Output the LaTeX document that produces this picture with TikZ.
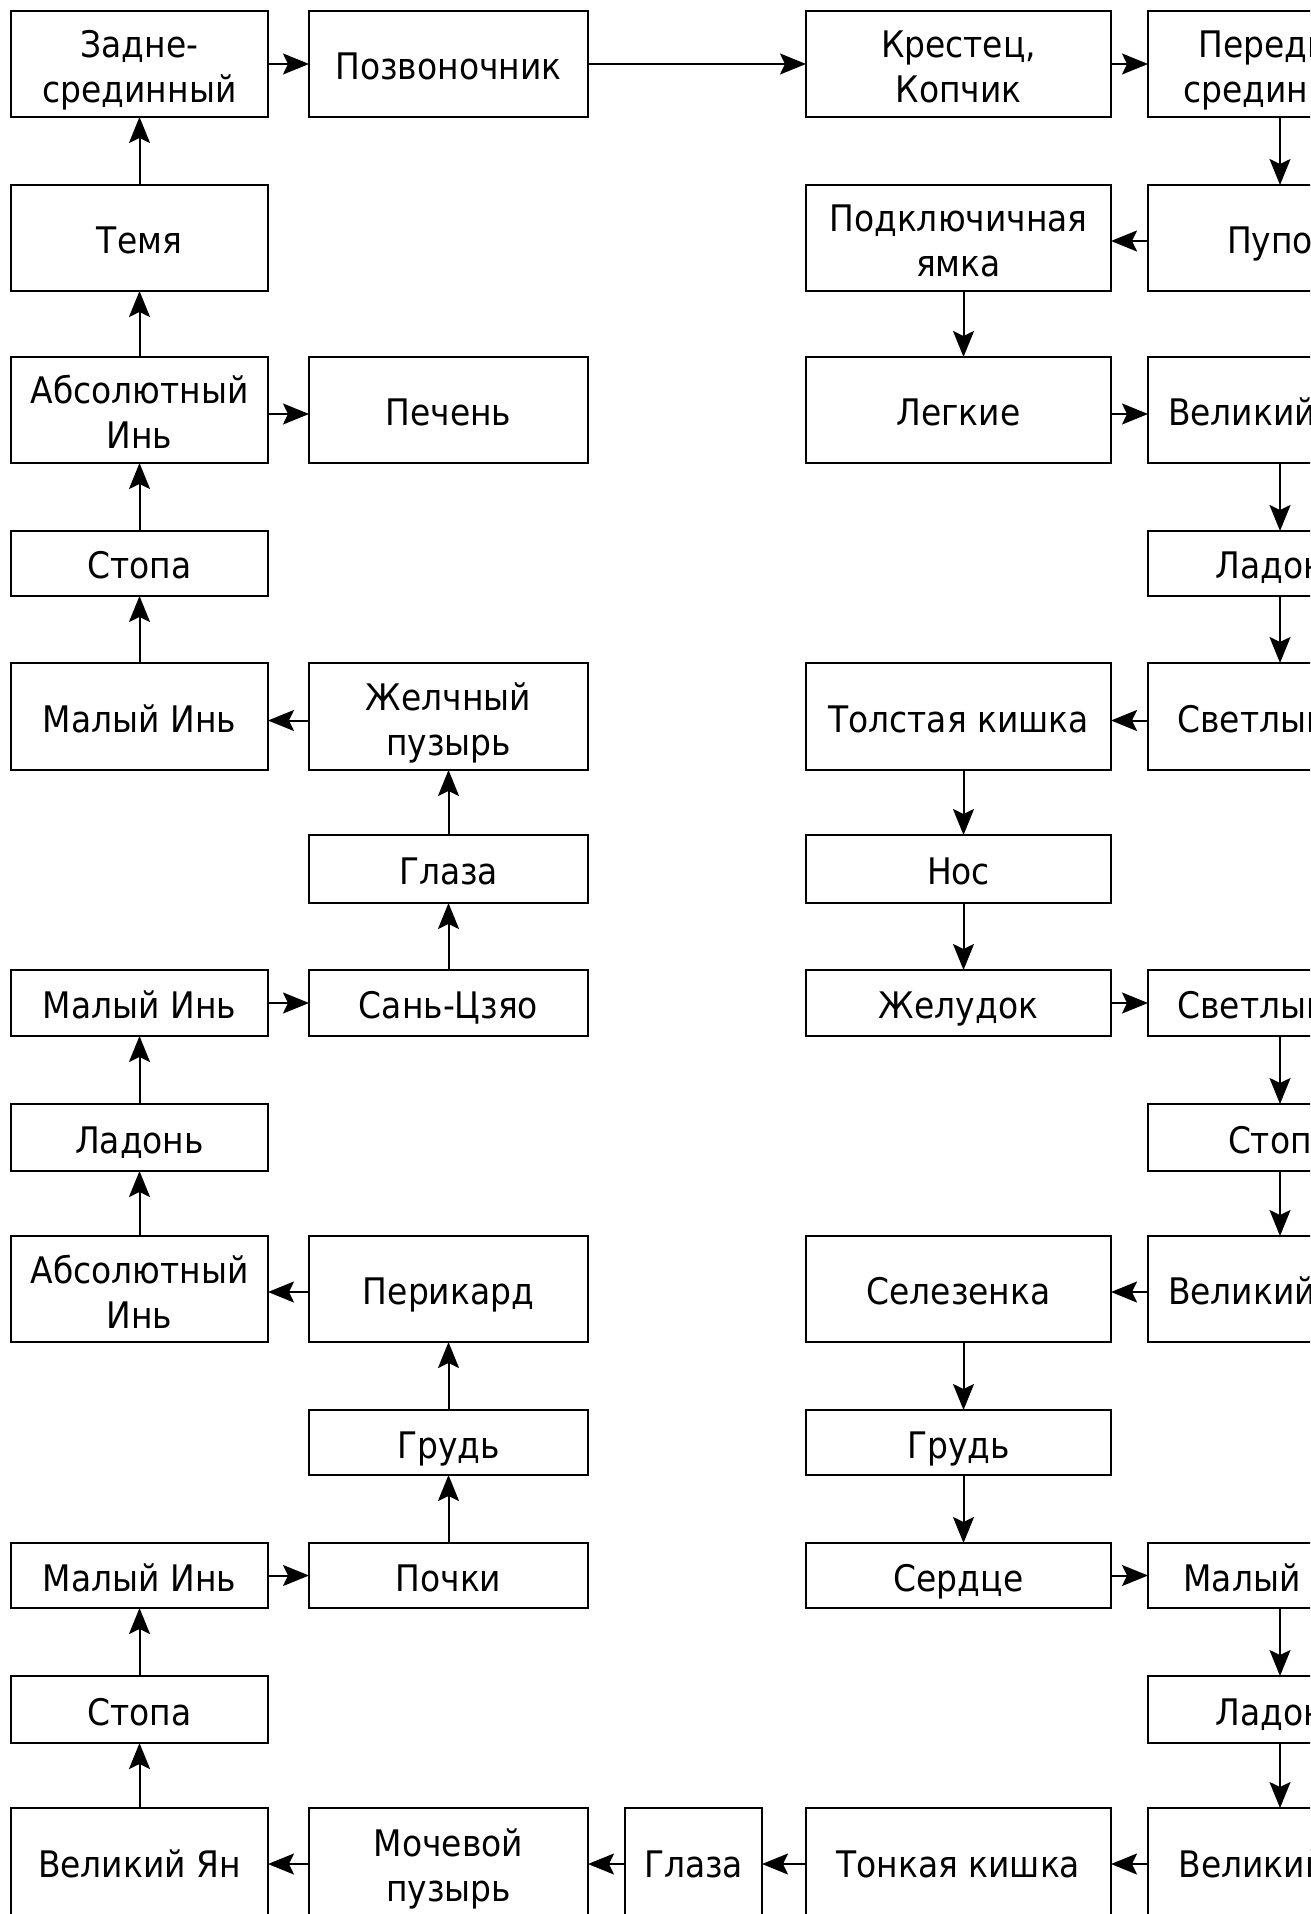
\documentclass[tikz,border=0pt]{standalone}
\usepackage{fontspec}
\setmainfont{DejaVu Sans Condensed}
\usetikzlibrary{arrows.meta}
\newcommand\bx[7][]{\node[box, #1, minimum width={(#5-#3)*0.5pt}, minimum height={(#6-#4)*0.5pt}]
  (#2) at ({(#3+#5)/2},{(#4+#6)/2}) {#7};}
\begin{document}
\begin{tikzpicture}[x=0.5pt,y=-0.5pt,
  box/.style={draw, line width=1pt, inner sep=0pt, outer sep=0pt, rectangle, align=center,
    font=\fontsize{18.3pt}{22.5pt}\selectfont, text height=18pt, text depth=2.5pt},
  two/.style={text height=41pt, text depth=2pt},
  arr/.style={line width=1pt, -{Stealth[length=13pt,width=10.5pt,inset=2.5pt]}}]
\useasboundingbox (0,0) rectangle (1310,1914);
\clip (0,0) rectangle (1310,1914);
% row 1
\bx[two]{zs}{11}{11}{268}{117}{Задне-\\срединный}
\bx{pz}{309}{11}{588}{117}{Позвоночник}
\bx[two]{kk}{806}{11}{1111}{117}{Крестец,\\Копчик}
\bx[two]{ps}{1148}{11}{1412}{117}{Передне-\\срединный}
% row 2
\bx{tm}{11}{185}{268}{291}{Темя}
\bx[two]{pk}{806}{185}{1111}{291}{Подключичная\\ямка}
\bx{pp}{1148}{185}{1412}{291}{Пупок}
% row 3
\bx[two]{ai1}{11}{357}{268}{463}{Абсолютный\\Инь}
\bx{pch}{309}{357}{588}{463}{Печень}
\bx{lg}{806}{357}{1111}{463}{Легкие}
\bx{vi1}{1148}{357}{1412}{463}{Великий Инь}
% row 4
\bx{st1}{11}{531}{268}{596}{Стопа}
\bx{ld1}{1148}{531}{1412}{596}{Ладонь}
% row 5
\bx{mi1}{11}{663}{268}{770}{Малый Инь}
\bx[two]{zp}{309}{663}{588}{770}{Желчный\\пузырь}
\bx{tk}{806}{663}{1111}{770}{Толстая кишка}
\bx{sy1}{1148}{663}{1412}{770}{Светлый Ян}
% row 6
\bx{gl1}{309}{835}{588}{903}{Глаза}
\bx{ns}{806}{835}{1111}{903}{Нос}
% row 7
\bx{mi2}{11}{970}{268}{1036}{Малый Инь}
\bx{sc}{309}{970}{588}{1036}{Сань-Цзяо}
\bx{zh}{806}{970}{1111}{1036}{Желудок}
\bx{sy2}{1148}{970}{1412}{1036}{Светлый Ян}
% row 8
\bx{ld2}{11}{1104}{268}{1171}{Ладонь}
\bx{st2}{1148}{1104}{1412}{1171}{Стопа}
% row 9
\bx[two]{ai2}{11}{1236}{268}{1342}{Абсолютный\\Инь}
\bx{pr}{309}{1236}{588}{1342}{Перикард}
\bx{sl}{806}{1236}{1111}{1342}{Селезенка}
\bx{vi2}{1148}{1236}{1412}{1342}{Великий Инь}
% row 10
\bx{gr1}{309}{1410}{588}{1475}{Грудь}
\bx{gr2}{806}{1410}{1111}{1475}{Грудь}
% row 11
\bx{mi3}{11}{1543}{268}{1608}{Малый Инь}
\bx{po}{309}{1543}{588}{1608}{Почки}
\bx{sr}{806}{1543}{1111}{1608}{Сердце}
\bx{mi4}{1148}{1543}{1412}{1608}{Малый Инь}
% row 12
\bx{st3}{11}{1676}{268}{1743}{Стопа}
\bx{ld3}{1148}{1676}{1412}{1743}{Ладонь}
% row 13
\bx{vy}{11}{1808}{268}{1916}{Великий Ян}
\bx[two]{mp}{309}{1808}{588}{1916}{Мочевой\\пузырь}
\bx{gl2}{625}{1808}{762}{1916}{Глаза}
\bx{tnk}{806}{1808}{1111}{1916}{Тонкая кишка}
\bx{vy2}{1148}{1808}{1412}{1916}{Великий Ян}

% left chain (upwards)
\draw[arr] (vy.north) -- (st3.south);
\draw[arr] (st3.north) -- (mi3.south);
\draw[arr] (mi3.east) -- (po.west);
\draw[arr] (po.north) -- (gr1.south);
\draw[arr] (gr1.north) -- (pr.south);
\draw[arr] ([yshift=-1.5pt]pr.west) -- ([yshift=-1.5pt]ai2.east);
\draw[arr] (ai2.north) -- (ld2.south);
\draw[arr] (ld2.north) -- (mi2.south);
\draw[arr] (mi2.east) -- (sc.west);
\draw[arr] (sc.north) -- (gl1.south);
\draw[arr] (gl1.north) -- (zp.south);
\draw[arr] ([yshift=-2pt]zp.west) -- ([yshift=-2pt]mi1.east);
\draw[arr] (mi1.north) -- (st1.south);
\draw[arr] (st1.north) -- (ai1.south);
\draw[arr] ([yshift=-2pt]ai1.east) -- ([yshift=-2pt]pch.west);
\draw[arr] (ai1.north) -- (tm.south);
\draw[arr] (tm.north) -- (zs.south);
\draw[arr] (zs.east) -- (pz.west);
\draw[arr] (pz.east) -- (kk.west);
\draw[arr] (kk.east) -- (ps.west);
% right chain (downwards)
\draw[arr] (ps.south) -- (pp.north);
\draw[arr] ([yshift=-1.5pt]pp.west) -- ([yshift=-1.5pt]pk.east);
\draw[arr] ([xshift=2.5pt]pk.south) -- ([xshift=2.5pt]lg.north);
\draw[arr] ([yshift=-2pt]lg.east) -- ([yshift=-2pt]vi1.west);
\draw[arr] (vi1.south) -- (ld1.north);
\draw[arr] (ld1.south) -- (sy1.north);
\draw[arr] ([yshift=-2pt]sy1.west) -- ([yshift=-2pt]tk.east);
\draw[arr] ([xshift=2.5pt]tk.south) -- ([xshift=2.5pt]ns.north);
\draw[arr] ([xshift=2.5pt]ns.south) -- ([xshift=2.5pt]zh.north);
\draw[arr] (zh.east) -- (sy2.west);
\draw[arr] (sy2.south) -- (st2.north);
\draw[arr] (st2.south) -- (vi2.north);
\draw[arr] ([yshift=-1.5pt]vi2.west) -- ([yshift=-1.5pt]sl.east);
\draw[arr] ([xshift=2.5pt]sl.south) -- ([xshift=2.5pt]gr2.north);
\draw[arr] ([xshift=2.5pt]gr2.south) -- ([xshift=2.5pt]sr.north);
\draw[arr] (sr.east) -- (mi4.west);
\draw[arr] (mi4.south) -- (ld3.north);
\draw[arr] (ld3.south) -- (vy2.north);
% bottom row (leftwards)
\draw[arr] (vy2.west|-0,1864) -- (tnk.east|-0,1864);
\draw[arr] (tnk.west|-0,1864) -- (gl2.east|-0,1864);
\draw[arr] (gl2.west|-0,1864) -- (mp.east|-0,1864);
\draw[arr] (mp.west|-0,1864) -- (vy.east|-0,1864);
\end{tikzpicture}
\end{document}
